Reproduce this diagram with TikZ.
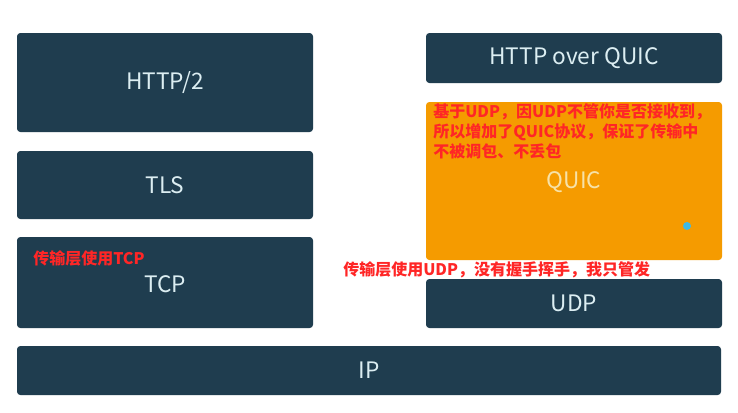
\documentclass[tikz,border=0pt]{standalone}
\usepackage{fontspec}
\setmainfont{Noto Sans CJK SC}
\definecolor{boxc}{HTML}{1F3D4F}
\definecolor{boxt}{HTML}{DCEEF2}
\definecolor{orangec}{HTML}{F59B00}
\definecolor{quict}{HTML}{F7E2A8}
\definecolor{notec}{HTML}{FF2626}
\definecolor{dotc}{HTML}{3DB9E6}
\begin{document}
\begin{tikzpicture}[x=0.75pt,y=-0.75pt,
  layer/.style={fill=boxc,rounded corners=2.5pt,text=boxt,font=\fontsize{17}{20}\selectfont},
  qbox/.style={fill=orangec,rounded corners=2.5pt},
  lbl/.style={text=boxt,font=\fontsize{17}{20}\selectfont},
  note/.style={text=notec,font=\fontsize{12}{15}\selectfont\bfseries,inner sep=0pt}]
\useasboundingbox (0,0) rectangle (738,412);
\fill[white] (0,0) rectangle (738,412);
% left stack
\path[layer] (17,33) rectangle (313,132) node[midway] (http2) {HTTP/2};
\path[layer] (17,151) rectangle (313,219) node[midway] (tls) {TLS};
\path[layer] (17,237) rectangle (313,328);
\node[lbl] (tcp) at (165,284) {TCP};
% right stack
\path[layer] (426,33) rectangle (722,83) node[midway] (hq) {HTTP over QUIC};
\path[qbox] (426,102) rectangle (722,260);
\node[lbl,text=quict] (quic) at (574,182) {QUIC};
\path[layer] (426,279) rectangle (722,328) node[midway] (udp) {UDP};
% IP
\path[layer] (17,346) rectangle (721,395) node[midway] (ip) {IP};
% notes
\node[note,anchor=west] (n1) at (33,258) {传输层使用TCP};
\node[note,anchor=west] (n2) at (343,270) {传输层使用UDP，没有握手挥手，我只管发};
\node[note,anchor=north west,align=left] (n3) at (433,103)
  {基于UDP，因UDP不管你是否接收到，\\所以增加了QUIC协议，保证了传输中\\不被调包、不丢包};
\fill[dotc] (687,226) circle (3pt);
\end{tikzpicture}
\end{document}
